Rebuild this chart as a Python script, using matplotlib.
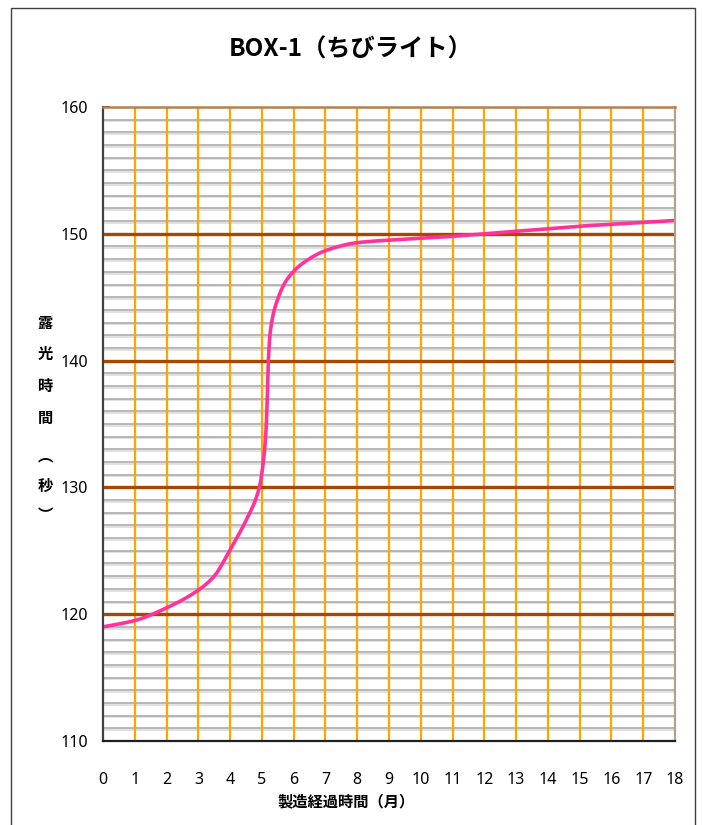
import numpy as np
import matplotlib
matplotlib.use("Agg")
import matplotlib.pyplot as plt
from matplotlib.patches import Rectangle
import matplotlib.patheffects as pe

plt.rcParams['font.family'] = ['Noto Sans', 'Noto Sans CJK JP', 'DejaVu Sans']

title = "BOX-1（ちびライト）"
xlabel = "製造経過時間（月）"
ylabel_chars = ["露", "光", "時", "間", "︵", "秒", "︶"]

months = [0, 1, 2, 3, 3.5, 4, 4.5, 4.92, 5.04, 5.13, 5.17, 5.2, 5.27, 5.52,
          5.79, 6.3, 7.03, 8, 9, 10, 11, 12, 13, 14, 15, 16, 17, 18]
seconds = [119.0, 119.5, 120.5, 121.9, 123.0, 125.1, 127.4, 130.0, 131.9, 134.5,
           137.1, 139.8, 142.4, 145.0, 146.4, 147.7, 148.7, 149.3, 149.5, 149.65,
           149.8, 150.0, 150.2, 150.4, 150.6, 150.75, 150.9, 151.05]

x_ticks = list(range(0, 19))
y_ticks = [110, 120, 130, 140, 150, 160]


def pchip(x, y, xs):
    x = np.asarray(x, float); y = np.asarray(y, float)
    h = np.diff(x); d = np.diff(y) / h
    n = len(x); m = np.zeros(n)
    for k in range(1, n - 1):
        if d[k - 1] * d[k] <= 0:
            m[k] = 0
        else:
            w1 = 2 * h[k] + h[k - 1]; w2 = h[k] + 2 * h[k - 1]
            m[k] = (w1 + w2) / (w1 / d[k - 1] + w2 / d[k])
    m[0] = d[0]; m[-1] = d[-1]
    idx = np.clip(np.searchsorted(x, xs) - 1, 0, n - 2)
    t = (xs - x[idx]) / h[idx]
    h00 = 2 * t**3 - 3 * t**2 + 1; h10 = t**3 - 2 * t**2 + t
    h01 = -2 * t**3 + 3 * t**2; h11 = t**3 - t**2
    return (h00 * y[idx] + h10 * h[idx] * m[idx] + h01 * y[idx + 1]
            + h11 * h[idx] * m[idx + 1])


fig = plt.figure(figsize=(7.02, 8.25), dpi=100)
ax = fig.add_axes([103 / 702, 1 - 741 / 825, (675 - 103) / 702, (741 - 107) / 825])
ax.set_xlim(0, 18)
ax.set_ylim(110, 160)

# minor horizontal grid (every 1 s)
shadow = [pe.SimpleLineShadow(offset=(0, -1.2), shadow_color='#dcdcdc', alpha=1.0), pe.Normal()]
for v in range(111, 160):
    if v % 10 == 0:
        continue
    ax.axhline(v, color='#ababab', lw=1.2, zorder=1, path_effects=shadow)
# vertical monthly lines
for m in x_ticks[1:-1]:
    ax.axvline(m, color='#ffa500', lw=1.6, zorder=2)
# major horizontal lines
for v in y_ticks[1:-1]:
    ax.axhline(v, color='#a84800', lw=2.4, zorder=3)

xs = np.linspace(months[0], months[-1], 2000)
ax.plot(xs, pchip(months, seconds, xs), color='#ff3399', lw=2.6, zorder=5,
        solid_capstyle='round')

ax.set_xticks(x_ticks)
ax.set_yticks(y_ticks)
ax.tick_params(axis='x', direction='in', length=5, width=1.2, pad=22, labelsize=11.5, color='black')
ax.tick_params(axis='y', direction='in', length=5, width=1.2, pad=11, labelsize=11.5, color='black')
ax.spines['left'].set_color('#404040'); ax.spines['left'].set_linewidth(1.6)
ax.spines['bottom'].set_color('#202020'); ax.spines['bottom'].set_linewidth(1.6)
ax.spines['top'].set_color('#b88050'); ax.spines['top'].set_linewidth(1.8)
ax.spines['right'].set_color('#b0a488'); ax.spines['right'].set_linewidth(1.6)
for s in ax.spines.values():
    s.set_zorder(6)

fig.text(351 / 702, 1 - 50 / 825, title, ha='center', va='center',
         fontsize=17.5, fontweight='bold', family=['Noto Sans CJK JP', 'DejaVu Sans'])
fig.text(346 / 702, 1 - 801 / 825, xlabel, ha='center', va='center',
         fontsize=11, fontweight='bold', family=['Noto Sans CJK JP', 'DejaVu Sans'])
ypos = [323, 354, 386, 418, 455, 486, 515]
for ch, yp in zip(ylabel_chars, ypos):
    fig.text(45 / 702, 1 - yp / 825, ch, ha='center', va='center',
             fontsize=11, fontweight='bold', family=['Noto Sans CJK JP', 'DejaVu Sans'])

fig.patches.append(Rectangle((10.5 / 702, -0.05), (694.5 - 10.5) / 702, 1.05 - 8.5 / 825,
                             transform=fig.transFigure, fill=False,
                             edgecolor='#404040', lw=1.0))

fig.savefig('out.png', dpi=100)
